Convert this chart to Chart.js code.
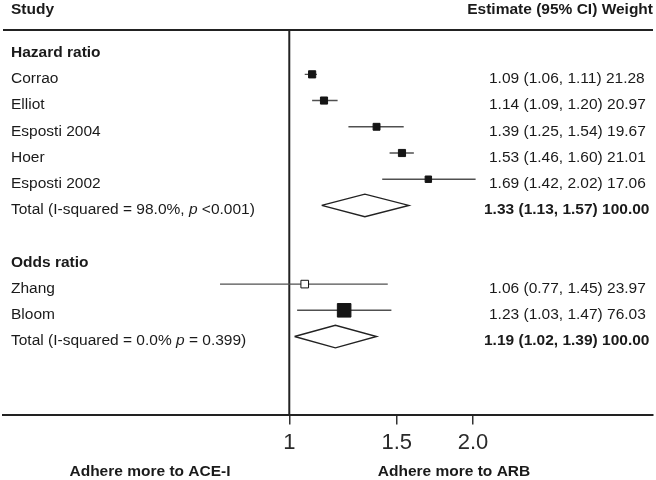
<!DOCTYPE html>
<html>
<head>
<meta charset="utf-8">
<script src="https://cdn.jsdelivr.net/npm/chart.js@4/dist/chart.umd.min.js"></script>
<style>
  body { margin: 0; background: #fff; }
  #wrap { width: 656px; height: 480px; }
</style>
</head>
<body>
<div id="wrap"><canvas id="forest" width="656" height="480"></canvas></div>
<script>
// values
const groups = ['Hazard ratio', 'Odds ratio'];

const hrStudies = ['Corrao', 'Elliot', 'Esposti 2004', 'Hoer', 'Esposti 2002'];
const hrEst = [1.09, 1.14, 1.39, 1.53, 1.69];
const hrLow = [1.06, 1.09, 1.25, 1.46, 1.42];
const hrHigh = [1.11, 1.20, 1.54, 1.60, 2.02];
const hrWeight = [21.28, 20.97, 19.67, 21.01, 17.06];
const hrTotal = [1.33, 1.13, 1.57];
const hrTotalLabel = ['Total (I-squared = 98.0%, ', 'p', ' <0.001)'];

const orStudies = ['Zhang', 'Bloom'];
const orEst = [1.06, 1.23];
const orLow = [0.77, 1.03];
const orHigh = [1.45, 1.47];
const orWeight = [23.97, 76.03];
const orTotal = [1.19, 1.02, 1.39];
const orTotalLabel = ['Total (I-squared = 0.0% ', 'p', ' = 0.399)'];

const tickValues = [1, 1.5, 2];
const tickLabels = ['1', '1.5', '2.0'];

const FONT = "'Liberation Sans', Arial, sans-serif";
const fmt = v => v.toFixed(2);

// build the row list: header, studies, total, blank gap, next group
let rows = [];
function addGroup(title, names, est, lo, hi, w, total, totalLabel) {
    rows.push({ kind: 'head', label: title });
    names.forEach((n, i) => {
        rows.push({ kind: 'study', label: n, est: est[i], lo: lo[i], hi: hi[i], w: w[i] });
    });
    rows.push({ kind: 'total', label: totalLabel, est: total[0], lo: total[1], hi: total[2], w: 100 });
}
addGroup(groups[0], hrStudies, hrEst, hrLow, hrHigh, hrWeight, hrTotal, hrTotalLabel);
rows.push({ kind: 'blank' });
addGroup(groups[1], orStudies, orEst, orLow, orHigh, orWeight, orTotal, orTotalLabel);
rows.forEach((r, i) => r.y = i);

const studyRows = rows.filter(r => r.kind === 'study');
const totalRows = rows.filter(r => r.kind === 'total');

const Y_MIN = -0.691, Y_MAX = 13.977;

let datasets = [];

// study squares (first dataset is drawn on top)
datasets.push({
    data: studyRows.map(r => ({ x: r.est, y: r.y })),
    pointStyle: 'rect',
    pointRadius: studyRows.map(r => 1.1 * Math.sqrt(r.w)),
    pointBackgroundColor: studyRows.map(r => r.label === 'Zhang' ? '#ffffff' : '#151515'),
    pointBorderColor: '#151515',
    pointBorderWidth: 1,
    showLine: false
});

// confidence intervals
studyRows.forEach(r => {
    datasets.push({
        data: [{ x: r.lo, y: r.y }, { x: r.hi, y: r.y }],
        showLine: true,
        borderColor: '#505050',
        borderWidth: 1.4,
        pointRadius: 0
    });
});

// pooled diamonds
totalRows.forEach(r => {
    const h = 0.43;
    datasets.push({
        data: [
            { x: r.lo, y: r.y },
            { x: r.est, y: r.y - h },
            { x: r.hi, y: r.y },
            { x: r.est, y: r.y + h },
            { x: r.lo, y: r.y }
        ],
        showLine: true,
        borderColor: '#222',
        borderWidth: 1.4,
        pointRadius: 0
    });
});

// line of no effect
datasets.push({
    data: [{ x: 1, y: Y_MIN }, { x: 1, y: Y_MAX }],
    showLine: true,
    borderColor: '#222',
    borderWidth: 2,
    pointRadius: 0
});

function drawTextParts(ctx, parts, x, y) {
    parts.forEach((p, i) => {
        ctx.font = (i === 1 ? 'italic ' : '') + '15.5px ' + FONT;
        ctx.fillText(p, x, y);
        x += ctx.measureText(p).width;
    });
}

const forestText = {
    id: 'forestText',
    afterDraw(chart) {
        const ctx = chart.ctx;
        const area = chart.chartArea;
        const ys = chart.scales.y;
        ctx.save();
        ctx.fillStyle = '#1a1a1a';
        ctx.textBaseline = 'middle';

        // header
        ctx.font = 'bold 15.5px ' + FONT;
        ctx.textAlign = 'left';
        ctx.fillText('Study', 11, 10);
        ctx.textAlign = 'right';
        ctx.fillText('Estimate (95% CI) Weight', 653, 10);

        // top rule
        ctx.strokeStyle = '#222';
        ctx.lineWidth = 2;
        ctx.beginPath();
        ctx.moveTo(area.left, area.top);
        ctx.lineTo(area.right, area.top);
        ctx.stroke();

        rows.forEach(r => {
            const py = ys.getPixelForValue(r.y) + 4.5;
            ctx.textAlign = 'left';
            if (r.kind === 'head') {
                ctx.font = 'bold 15.5px ' + FONT;
                ctx.fillText(r.label, 11, py);
            } else if (r.kind === 'study') {
                ctx.font = '15.5px ' + FONT;
                ctx.fillText(r.label, 11, py);
                ctx.fillText(fmt(r.est) + ' (' + fmt(r.lo) + ', ' + fmt(r.hi) + ') ' + fmt(r.w), 489, py);
            } else if (r.kind === 'total') {
                drawTextParts(ctx, r.label, 11, py);
                ctx.font = 'bold 15.5px ' + FONT;
                ctx.fillText(fmt(r.est) + ' (' + fmt(r.lo) + ', ' + fmt(r.hi) + ') ' + fmt(r.w), 484, py);
            }
        });

        // direction labels
        ctx.font = 'bold 15.5px ' + FONT;
        ctx.textAlign = 'center';
        ctx.fillText('Adhere more to ACE-I', 150, 472);
        ctx.fillText('Adhere more to ARB', 454, 472);
        ctx.restore();
    }
};

new Chart(document.getElementById('forest'), {
    type: 'scatter',
    data: { datasets: datasets },
    options: {
        responsive: false,
        animation: false,
        events: [],
        layout: { autoPadding: false, padding: { top: 30, left: 3, right: 3, bottom: 18 } },
        plugins: {
            legend: { display: false },
            tooltip: { enabled: false }
        },
        scales: {
            x: {
                type: 'logarithmic',
                bounds: 'data',
                min: 0.3395,
                max: 3.945,
                afterBuildTicks: scale => {
                    scale.ticks = tickValues.map(v => ({ value: v }));
                },
                ticks: {
                    autoSkip: false,
                    maxRotation: 0,
                    padding: 5.5,
                    color: '#2a2a2a',
                    font: { family: FONT, size: 22 },
                    callback: v => tickLabels[tickValues.indexOf(v)]
                },
                grid: {
                    drawOnChartArea: false,
                    drawTicks: true,
                    tickLength: 10,
                    color: '#333',
                    lineWidth: 1.5
                },
                border: { display: true, color: '#222', width: 2 }
            },
            y: {
                type: 'linear',
                display: false,
                reverse: true,
                min: Y_MIN,
                max: Y_MAX
            }
        }
    },
    plugins: [forestText]
});
</script>
</body>
</html>
